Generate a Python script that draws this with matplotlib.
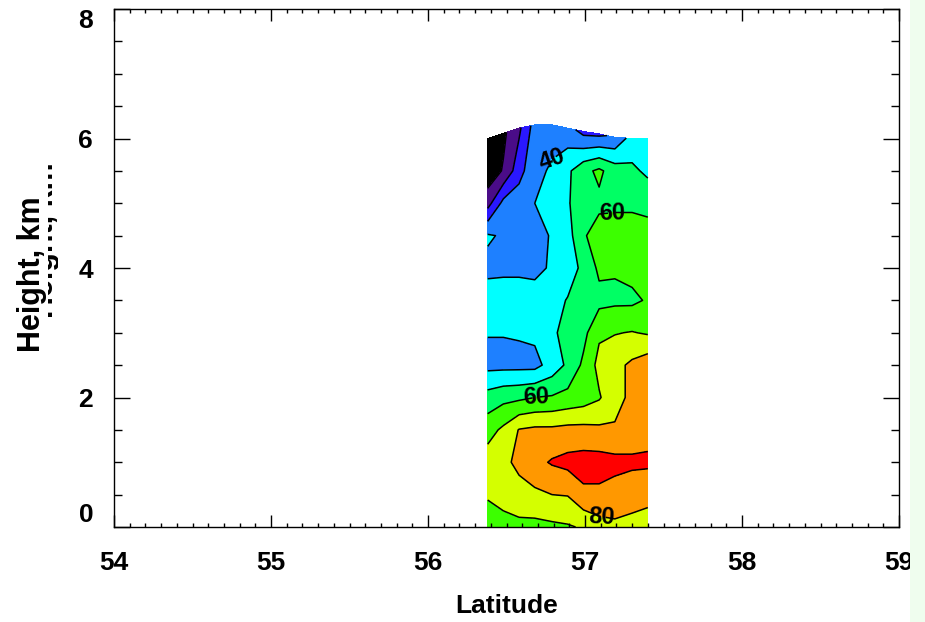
"""Latitude-height contour section drawn in the IDL rainbow style."""

import matplotlib
matplotlib.use("Agg")
import matplotlib.pyplot as plt
import numpy as np
from matplotlib.colors import BoundaryNorm, ListedColormap
from matplotlib.patches import Rectangle
from matplotlib.ticker import MultipleLocator
from matplotlib.transforms import Bbox

# grid columns (deg N) and rows (km)
LATITUDES = [56.38, 56.48, 56.58, 56.68, 56.79, 56.89, 56.99, 57.09, 57.19, 57.30, 57.40]
HEIGHTS = [0.0, 0.5, 1.0, 1.5, 2.0, 2.5, 3.0, 3.5, 4.0, 4.5, 5.0, 5.5, 6.0]
# the top row of the section is not flat
TOP_HEIGHT = [6.0, 6.08, 6.16, 6.21, 6.21, 6.16, 6.11, 6.07, 6.02, 6.0, 6.0]

# values, one row per height
ROW_00 = [65, 66, 67, 67, 68, 69, 71, 76, 78, 77, 77]
ROW_05 = [71, 74, 77, 78, 80, 80.5, 88, 88, 86, 84, 82]
ROW_10 = [75, 78, 82, 87, 91, 93, 94, 94, 93, 92, 92]
ROW_15 = [66, 72, 80.5, 82, 82, 83, 83, 82, 81, 84, 86]
ROW_20 = [54, 57, 58, 60, 61, 63, 65, 69, 77, 82, 84]
ROW_25 = [37, 37, 37, 37, 44, 52, 62, 73, 77, 82, 86]
ROW_30 = [40.5, 40.5, 41, 42, 49, 52, 57, 68.5, 69.5, 70.5, 69]
ROW_35 = [44, 45, 45, 47, 47, 50.5, 56, 57, 58, 58, 61]
ROW_40 = [38, 38, 38, 36, 42, 46, 52, 62, 61, 63, 64]
ROW_45 = [41, 39, 35, 36, 41, 46, 59, 64, 65, 65, 64]
ROW_50 = [16, 33, 36, 40, 46, 49, 56, 58, 58, 58, 57]
ROW_55 = [3, 11, 26, 38, 41, 48, 57, 62, 55, 52, 48]
ROW_60 = [3, 8, 18, 34, 37, 33, 27, 28, 32, 44, 46]

LEVELS = [0, 10, 20, 30, 40, 50, 60, 70, 80, 90, 100]
LABEL_LEVELS = [40, 60, 80]
PLAIN_LEVELS = [10, 20, 30, 50, 70, 90]
# where the level labels sit (lat, km)
LABEL_SPOTS = [(56.79, 5.7), (57.17, 4.86), (56.69, 2.0), (57.11, 0.37)]
FILL_COLORS = ["#000000", "#4a0c88", "#2a18ff", "#1e80ff", "#00ffff",
               "#00ff64", "#3cff00", "#d4ff00", "#ff9800", "#ff0000"]

X_TICKS = [54, 55, 56, 57, 58, 59]
Y_TICKS = [0, 2, 4, 6, 8]

plt.rcParams["font.family"] = ["Liberation Sans", "DejaVu Sans"]
plt.rcParams["font.weight"] = "bold"


def build_grid():
    z = np.array([ROW_00, ROW_05, ROW_10, ROW_15, ROW_20, ROW_25, ROW_30,
                  ROW_35, ROW_40, ROW_45, ROW_50, ROW_55, ROW_60], dtype=float)
    xx, yy = np.meshgrid(LATITUDES, HEIGHTS)
    yy[-1, :] = TOP_HEIGHT
    return xx, yy, z


def main():
    xx, yy, z = build_grid()

    fig = plt.figure(figsize=(9.25, 6.22), dpi=100)
    ax = fig.add_axes([114 / 925, 95 / 622, 785 / 925, 518 / 622])

    cmap = ListedColormap(FILL_COLORS)
    norm = BoundaryNorm(LEVELS, cmap.N)
    ax.contourf(xx, yy, z, levels=LEVELS, cmap=cmap, norm=norm)
    ax.contour(xx, yy, z, levels=PLAIN_LEVELS, colors="k", linewidths=1.1)
    # labelled levels drawn on their own (clabel with a level subset + manual is buggy)
    cs = ax.contour(xx, yy, z, levels=LABEL_LEVELS, colors="k", linewidths=1.1)
    ax.clabel(cs, manual=LABEL_SPOTS, fmt="%d", inline=True, fontsize=17, colors="k")

    ax.set_xlim(X_TICKS[0], X_TICKS[-1])
    ax.set_ylim(Y_TICKS[0], Y_TICKS[-1])
    ax.set_xticks(X_TICKS)
    ax.set_yticks(Y_TICKS)
    ax.xaxis.set_minor_locator(MultipleLocator(0.1))
    ax.yaxis.set_minor_locator(MultipleLocator(0.5))
    ax.tick_params(axis="x", which="major", direction="in", length=8.4, width=1,
                   top=True, labelsize=19, pad=17)
    ax.tick_params(axis="x", which="minor", direction="in", length=3.2, width=1, top=True)
    ax.tick_params(axis="y", which="major", direction="in", length=11.3, width=1,
                   right=True, labelsize=19, pad=15)
    ax.tick_params(axis="y", which="minor", direction="in", length=6, width=1, right=True)
    for spine in ax.spines.values():
        spine.set_linewidth(1)

    # end labels on the height axis are pulled inside the frame
    ylabels = ax.get_yticklabels()
    ylabels[0].set_verticalalignment("bottom")
    ylabels[-1].set_verticalalignment("top")

    ax.set_xlabel("Latitude", fontsize=19, fontweight="bold", labelpad=14)
    ax.set_ylabel("Height, km", fontsize=22, fontweight="bold")
    ax.yaxis.set_label_coords(-0.085, 0.488)

    # the original has a second, half hidden copy of the axis title
    ghost = fig.text(60 / 925, 1 - 240 / 622, "Height, km", rotation=90,
                     rotation_mode="anchor", ha="center", va="bottom",
                     fontsize=22, fontweight="bold")
    ghost.set_clip_box(Bbox([[48, 0], [58, 622]]))
    ghost.set_clip_on(True)

    # pale strip down the right edge of the frame
    fig.patches.append(Rectangle((910 / 925, 0), 15 / 925, 1, transform=fig.transFigure,
                                 facecolor="#effdee", edgecolor="none", zorder=10))

    fig.savefig("out.png", dpi=100)


if __name__ == "__main__":
    main()
